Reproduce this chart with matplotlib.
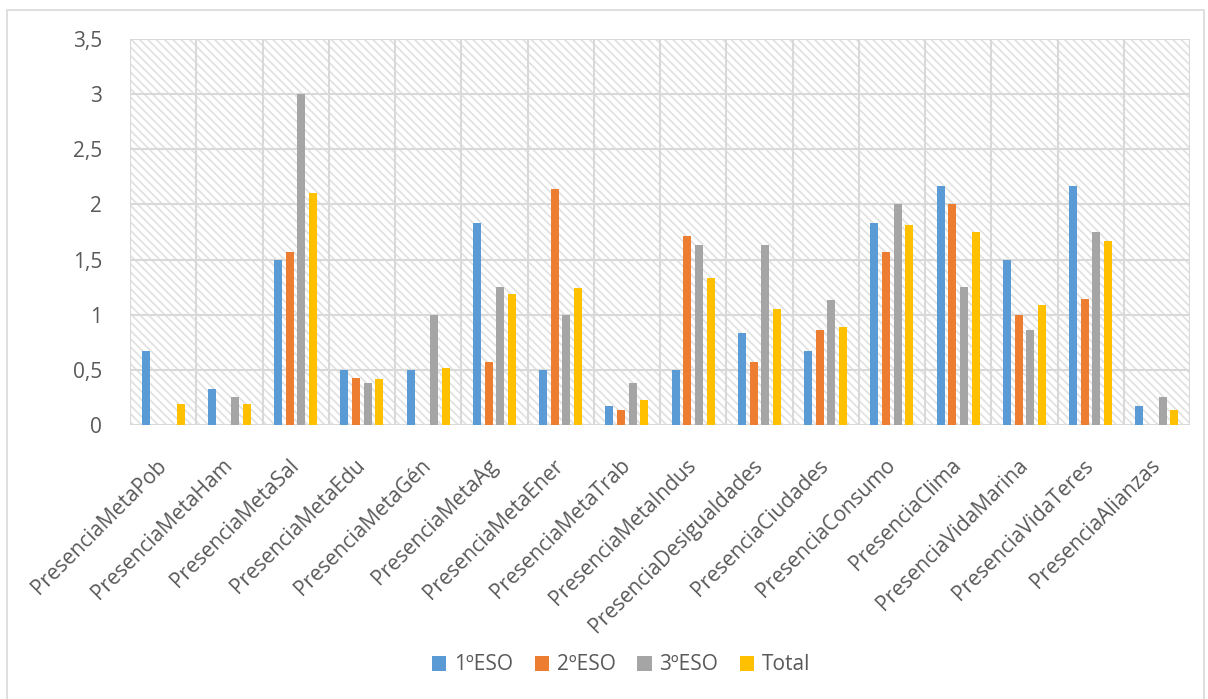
import numpy as np
import matplotlib
matplotlib.use("Agg")
import matplotlib.pyplot as plt
from matplotlib.patches import Rectangle, Patch

# Data
categories = [
    "PresenciaMetaPob", "PresenciaMetaHam", "PresenciaMetaSal", "PresenciaMetaEdu",
    "PresenciaMetaGén", "PresenciaMetaAg", "PresenciaMetaEner", "PresenciaMetaTrab",
    "PresenciaMetaIndus", "PresenciaDesigualdades", "PresenciaCiudades",
    "PresenciaConsumo", "PresenciaClima", "PresenciaVidaMarina",
    "PresenciaVidaTeres", "PresenciaAlianzas",
]
eso1 = [0.67, 0.33, 1.5, 0.5, 0.5, 1.83, 0.5, 0.17, 0.5, 0.83, 0.67, 1.83, 2.17, 1.5, 2.17, 0.17]
eso2 = [0, 0, 1.57, 0.43, 0, 0.57, 2.14, 0.14, 1.71, 0.57, 0.86, 1.57, 2.0, 1.0, 1.14, 0]
eso3 = [0, 0.25, 3.0, 0.38, 1.0, 1.25, 1.0, 0.38, 1.63, 1.63, 1.13, 2.0, 1.25, 0.86, 1.75, 0.25]
total = [0.19, 0.19, 2.1, 0.42, 0.52, 1.19, 1.24, 0.23, 1.33, 1.05, 0.89, 1.81, 1.75, 1.09, 1.67, 0.14]
series_names = ["1ºESO", "2ºESO", "3ºESO", "Total"]
yticks = [0, 0.5, 1, 1.5, 2, 2.5, 3, 3.5]
ytick_labels = ["0", "0,5", "1", "1,5", "2", "2,5", "3", "3,5"]

colors = ["#5B9BD5", "#ED7D31", "#A5A5A5", "#FFC000"]
text_color = "#595959"
grid_color = "#D9D9D9"
fs = 15

plt.rcParams["font.family"] = ["Open Sans", "DejaVu Sans"]
plt.rcParams["hatch.color"] = "#E2E2E2"
plt.rcParams["hatch.linewidth"] = 1.3

fig = plt.figure(figsize=(12.08, 6.99), dpi=100)
ax = fig.add_axes([130 / 1208, 1 - 425 / 699, 1060 / 1208, 386 / 699])

# outer chart border
fig.patches.append(Rectangle((7 / 1208, -0.01), 1197 / 1208, 1 - 10 / 699 + 0.01,
                             transform=fig.transFigure, fill=False,
                             edgecolor=grid_color, lw=1.2))

# hatched plot-area background
ax.set_facecolor("white")
ax.add_patch(Rectangle((0, 0), 1, 1, transform=ax.transAxes, facecolor="white",
                       edgecolor="#E2E2E2", hatch="\\\\\\\\", lw=0, zorder=0))

n = len(categories)
x = np.arange(n)
slot = 0.176
width = 0.122
for i, (vals, c, name) in enumerate(zip([eso1, eso2, eso3, total], colors, series_names)):
    ax.bar(x + (i - 1.5) * slot, vals, width=width, color=c, zorder=3, label=name)

ax.set_xlim(-0.5, n - 0.5)
ax.set_ylim(0, 3.5)

# gridlines
for yv in yticks:
    ax.axhline(yv, color=grid_color, lw=1.5, zorder=1)
for xv in np.arange(-0.5, n, 1.0):
    ax.axvline(xv, color=grid_color, lw=1.5, zorder=1)

for s in ax.spines.values():
    s.set_visible(False)

ax.set_yticks(yticks)
ax.set_yticklabels(ytick_labels)
ax.tick_params(axis="y", length=0, pad=20, labelsize=fs, labelcolor=text_color)
ax.set_xticks(x)
ax.set_xticklabels(categories, rotation=45, ha="right", va="center",
                   rotation_mode="anchor")
ax.tick_params(axis="x", length=0, pad=27, labelsize=fs, labelcolor=text_color)

handles = [Patch(facecolor=c, edgecolor="none", label=nm) for c, nm in zip(colors, series_names)]
fig.legend(handles=handles, loc="center", bbox_to_anchor=(621 / 1208, 1 - 665 / 699), ncol=4,
           frameon=False, fontsize=fs, labelcolor=text_color, handlelength=0.7,
           handleheight=0.7, handletextpad=0.35, columnspacing=1.05)

fig.savefig("out.png", dpi=100)
